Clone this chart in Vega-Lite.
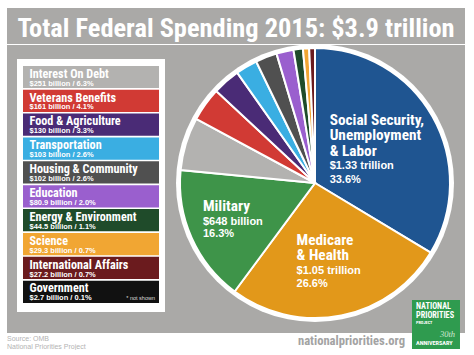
{
  "$schema": "https://vega.github.io/schema/vega-lite/v6.json",
  "background": "white",
  "padding": {"left": 7, "top": 8, "right": 9, "bottom": 0},
  "spacing": 0,
  "config": {"view": {"stroke": null}, "concat": {"spacing": 0}, "font": "Liberation Sans"},
  "datasets": {
    "pie": [
      {"ord": 1, "cat": "Social Security, Unemployment & Labor", "value": 1330, "h": "Social Security,\nUnemployment\n& Labor", "v": "$1.33 trillion\n33.6%"},
      {"ord": 2, "cat": "Medicare & Health", "value": 1050, "h": "Medicare\n& Health", "v": "$1.05 trillion\n26.6%"},
      {"ord": 3, "cat": "Military", "value": 648, "h": "Military", "v": "$648 billion\n16.3%"},
      {"ord": 4, "cat": "Interest On Debt", "value": 251, "h": "", "v": ""},
      {"ord": 5, "cat": "Veterans Benefits", "value": 161, "h": "", "v": ""},
      {"ord": 6, "cat": "Food & Agriculture", "value": 130, "h": "", "v": ""},
      {"ord": 7, "cat": "Transportation", "value": 103, "h": "", "v": ""},
      {"ord": 8, "cat": "Housing & Community", "value": 102, "h": "", "v": ""},
      {"ord": 9, "cat": "Education", "value": 80.9, "h": "", "v": ""},
      {"ord": 10, "cat": "Energy & Environment", "value": 44.5, "h": "", "v": ""},
      {"ord": 11, "cat": "Science", "value": 29.3, "h": "", "v": ""},
      {"ord": 12, "cat": "International Affairs", "value": 27.2, "h": "", "v": ""}
    ],
    "legend": [
      {"cat": "Interest On Debt", "sub": "$251 billion / 6.3%", "note": ""},
      {"cat": "Veterans Benefits", "sub": "$161 billion / 4.1%", "note": ""},
      {"cat": "Food & Agriculture", "sub": "$130 billion / 3.3%", "note": ""},
      {"cat": "Transportation", "sub": "$103 billion / 2.6%", "note": ""},
      {"cat": "Housing & Community", "sub": "$102 billion / 2.6%", "note": ""},
      {"cat": "Education", "sub": "$80.9 billion / 2.0%", "note": ""},
      {"cat": "Energy & Environment", "sub": "$44.5 billion / 1.1%", "note": ""},
      {"cat": "Science", "sub": "$29.3 billion / 0.7%", "note": ""},
      {"cat": "International Affairs", "sub": "$27.2 billion / 0.7%", "note": ""},
      {"cat": "Government", "sub": "$2.7 billion / 0.1%", "note": "* not shown"}
    ]
  },
  "vconcat": [
    {
      "width": 458, "height": 36,
      "view": {"fill": "#aaa9a7"},
      "data": {"values": [{"t": "Total Federal Spending 2015: $3.9 trillion"}]},
      "mark": {"type": "text", "font": "Roboto Condensed", "fontWeight": "bold", "fontSize": 26.4, "color": "white", "baseline": "alphabetic", "dy": 10.5},
      "encoding": {"text": {"field": "t", "type": "nominal"}}
    },
    {
      "spacing": 0,
      "hconcat": [
        {
          "spacing": 0,
          "vconcat": [
            {"width": 158, "height": 14, "data": {"values": [{}]}, "mark": {"type": "rect", "color": "#aaa9a7"}, "encoding": {}},
            {
              "spacing": 0,
              "hconcat": [
                {"width": 10, "height": 253, "data": {"values": [{}]}, "mark": {"type": "rect", "color": "#aaa9a7"}, "encoding": {}},
                {
                  "width": 148, "height": 253,
                  "view": {"fill": "white"},
                  "data": {"name": "legend"},
                  "encoding": {
                    "y": {"field": "cat", "type": "nominal", "sort": null, "axis": null, "scale": {"paddingInner": 0.07, "paddingOuter": 0.335, "align": 0.43}}
                  },
                  "layer": [
                    {
                      "mark": {"type": "rect"},
                      "encoding": {
                        "x": {"datum": 0, "type": "quantitative", "scale": {"domain": [0, 1], "padding": 6, "nice": false, "zero": false}, "axis": null},
                        "x2": {"datum": 1},
                        "color": {"field": "cat", "type": "nominal", "legend": null,
                          "scale": {"domain": ["Social Security, Unemployment & Labor", "Medicare & Health", "Military", "Interest On Debt", "Veterans Benefits", "Food & Agriculture", "Transportation", "Housing & Community", "Education", "Energy & Environment", "Science", "International Affairs", "Government"],
                                    "range": ["#1f5591", "#e2981a", "#3e9449", "#b3b2b0", "#d13a34", "#4a2b76", "#3aaee2", "#505050", "#9a5fce", "#1f4b2a", "#f1a633", "#6b1b1e", "#111111"]}}
                      }
                    },
                    {
                      "mark": {"type": "text", "align": "left", "baseline": "alphabetic", "dx": 6.5, "dy": 0.7, "font": "Roboto Condensed", "fontWeight": "bold", "fontSize": 12.2, "color": "white"},
                      "encoding": {"x": {"datum": 0, "type": "quantitative"}, "text": {"field": "cat", "type": "nominal"}}
                    },
                    {
                      "mark": {"type": "text", "align": "left", "baseline": "alphabetic", "dx": 6.5, "dy": 8.6, "font": "Liberation Sans", "fontWeight": "bold", "fontSize": 7.5, "color": "white"},
                      "encoding": {"x": {"datum": 0, "type": "quantitative"}, "text": {"field": "sub", "type": "nominal"}}
                    },
                    {
                      "mark": {"type": "text", "align": "right", "baseline": "alphabetic", "dx": -4, "dy": 8.6, "font": "Liberation Sans", "fontSize": 5.5, "color": "#dddddd"},
                      "encoding": {"x": {"datum": 1, "type": "quantitative"}, "text": {"field": "note", "type": "nominal"}}
                    }
                  ]
                }
              ]
            },
            {
              "width": 158, "height": 21, "data": {"values": [{}]}, "mark": {"type": "rect", "color": "#aaa9a7"}, "encoding": {},
              "title": {"text": "Source: OMB", "subtitle": "National Priorities Project", "orient": "bottom", "anchor": "start", "offset": 2, "font": "Liberation Sans", "fontSize": 7, "fontWeight": "normal", "color": "#b3b3b3", "subtitleFont": "Liberation Sans", "subtitleFontSize": 7, "subtitleColor": "#b3b3b3", "subtitlePadding": 1}
            }
          ]
        },
        {
          "width": 300, "height": 288,
          "view": {"fill": "#aaa9a7"},
          "layer": [
            {"data": {"values": [{}]}, "mark": {"type": "arc", "outerRadius": 139, "color": "white", "yOffset": -6}, "encoding": {}},
            {
              "data": {"name": "pie"},
              "mark": {"type": "arc", "outerRadius": 135, "stroke": "white", "strokeWidth": 2, "yOffset": -6},
              "encoding": {
                "theta": {"field": "value", "type": "quantitative", "stack": true},
                "order": {"field": "ord", "type": "quantitative"},
                "color": {"field": "cat", "type": "nominal", "legend": null,
                  "scale": {"domain": ["Social Security, Unemployment & Labor", "Medicare & Health", "Military", "Interest On Debt", "Veterans Benefits", "Food & Agriculture", "Transportation", "Housing & Community", "Education", "Energy & Environment", "Science", "International Affairs", "Government"],
                            "range": ["#1f5591", "#e2981a", "#3e9449", "#b3b2b0", "#d13a34", "#4a2b76", "#3aaee2", "#505050", "#9a5fce", "#1f4b2a", "#f1a633", "#6b1b1e", "#111111"]}}
              }
            },
            {
              "data": {"name": "pie"},
              "mark": {"type": "text", "radius": 80, "align": "left", "baseline": "alphabetic", "lineBreak": "\n", "lineHeight": 15.5, "font": "Roboto Condensed", "fontWeight": "bold", "fontSize": 15.3, "color": "white", "yOffset": -6, "dx": -55, "dy": -18.8},
              "encoding": {
                "theta": {"field": "value", "type": "quantitative", "stack": true},
                "order": {"field": "ord", "type": "quantitative"},
                "text": {"condition": {"test": "datum.ord === 1", "field": "h", "type": "nominal"}, "value": ""}
              }
            },
            {
              "data": {"name": "pie"},
              "mark": {"type": "text", "radius": 80, "align": "left", "baseline": "alphabetic", "lineBreak": "\n", "lineHeight": 14, "font": "Liberation Sans", "fontWeight": "bold", "fontSize": 11, "color": "white", "yOffset": -6, "dx": -55, "dy": 25.6},
              "encoding": {
                "theta": {"field": "value", "type": "quantitative", "stack": true},
                "order": {"field": "ord", "type": "quantitative"},
                "text": {"condition": {"test": "datum.ord === 1", "field": "v", "type": "nominal"}, "value": ""}
              }
            },
            {
              "data": {"name": "pie"},
              "mark": {"type": "text", "radius": 80, "align": "left", "baseline": "alphabetic", "lineBreak": "\n", "lineHeight": 15.7, "font": "Roboto Condensed", "fontWeight": "bold", "fontSize": 15.3, "color": "white", "yOffset": -6, "dx": -34, "dy": -16.8},
              "encoding": {
                "theta": {"field": "value", "type": "quantitative", "stack": true},
                "order": {"field": "ord", "type": "quantitative"},
                "text": {"condition": {"test": "datum.ord === 2", "field": "h", "type": "nominal"}, "value": ""}
              }
            },
            {
              "data": {"name": "pie"},
              "mark": {"type": "text", "radius": 80, "align": "left", "baseline": "alphabetic", "lineBreak": "\n", "lineHeight": 13.3, "font": "Liberation Sans", "fontWeight": "bold", "fontSize": 11, "color": "white", "yOffset": -6, "dx": -34, "dy": 12.6},
              "encoding": {
                "theta": {"field": "value", "type": "quantitative", "stack": true},
                "order": {"field": "ord", "type": "quantitative"},
                "text": {"condition": {"test": "datum.ord === 2", "field": "v", "type": "nominal"}, "value": ""}
              }
            },
            {
              "data": {"name": "pie"},
              "mark": {"type": "text", "radius": 80, "align": "left", "baseline": "alphabetic", "lineBreak": "\n", "lineHeight": 15.5, "font": "Roboto Condensed", "fontWeight": "bold", "fontSize": 15.3, "color": "white", "yOffset": -6, "dx": -39, "dy": -4.1},
              "encoding": {
                "theta": {"field": "value", "type": "quantitative", "stack": true},
                "order": {"field": "ord", "type": "quantitative"},
                "text": {"condition": {"test": "datum.ord === 3", "field": "h", "type": "nominal"}, "value": ""}
              }
            },
            {
              "data": {"name": "pie"},
              "mark": {"type": "text", "radius": 80, "align": "left", "baseline": "alphabetic", "lineBreak": "\n", "lineHeight": 12.5, "font": "Liberation Sans", "fontWeight": "bold", "fontSize": 11, "color": "white", "yOffset": -6, "dx": -39, "dy": 9.2},
              "encoding": {
                "theta": {"field": "value", "type": "quantitative", "stack": true},
                "order": {"field": "ord", "type": "quantitative"},
                "text": {"condition": {"test": "datum.ord === 3", "field": "v", "type": "nominal"}, "value": ""}
              }
            },
            {
              "data": {"values": [{"name": "logo"}]},
              "mark": {"type": "rect", "color": "#2f9b4f"},
              "encoding": {
                "x": {"datum": 0.8233, "type": "quantitative", "scale": {"domain": [0, 1], "nice": false, "zero": false}, "axis": null},
                "x2": {"datum": 0.9833},
                "y": {"datum": 0.1146, "type": "quantitative", "scale": {"domain": [0, 1], "nice": false, "zero": false}, "axis": null},
                "y2": {"datum": -0.0556}
              }
            },
            {
              "data": {"values": [{"t": "NATIONAL\nPRIORITIES"}]},
              "mark": {"type": "text", "align": "left", "baseline": "alphabetic", "lineBreak": "\n", "lineHeight": 9, "font": "Roboto Condensed", "fontWeight": "bold", "fontSize": 8.2, "color": "white"},
              "encoding": {"x": {"datum": 0.8367, "type": "quantitative"}, "y": {"datum": 0.0823, "type": "quantitative"}, "text": {"field": "t", "type": "nominal"}}
            },
            {
              "data": {"values": [{"t": "PROJECT"}]},
              "mark": {"type": "text", "align": "left", "baseline": "alphabetic", "font": "Roboto Condensed", "fontWeight": "bold", "fontSize": 4.3, "color": "white"},
              "encoding": {"x": {"datum": 0.8367, "type": "quantitative"}, "y": {"datum": 0.0302, "type": "quantitative"}, "text": {"field": "t", "type": "nominal"}}
            },
            {
              "data": {"values": [{"t": "30th"}]},
              "mark": {"type": "text", "align": "right", "baseline": "alphabetic", "font": "Liberation Serif", "fontStyle": "italic", "fontSize": 8.5, "color": "#cfe8d3"},
              "encoding": {"x": {"datum": 0.9667, "type": "quantitative"}, "y": {"datum": -0.0139, "type": "quantitative"}, "text": {"field": "t", "type": "nominal"}}
            },
            {
              "data": {"values": [{"t": "ANNIVERSARY"}]},
              "mark": {"type": "text", "align": "left", "baseline": "alphabetic", "font": "Roboto Condensed", "fontWeight": "bold", "fontSize": 6.2, "color": "white"},
              "encoding": {"x": {"datum": 0.8367, "type": "quantitative"}, "y": {"datum": -0.0417, "type": "quantitative"}, "text": {"field": "t", "type": "nominal"}}
            },
            {
              "data": {"values": [{"t": "nationalpriorities.org"}]},
              "mark": {"type": "text", "align": "right", "baseline": "alphabetic", "font": "Roboto Condensed", "fontWeight": "bold", "fontSize": 12.6, "color": "#a3a3a3"},
              "encoding": {"x": {"datum": 0.8, "type": "quantitative"}, "y": {"datum": -0.0417, "type": "quantitative"}, "text": {"field": "t", "type": "nominal"}}
            }
          ]
        }
      ]
    }
  ]
}
